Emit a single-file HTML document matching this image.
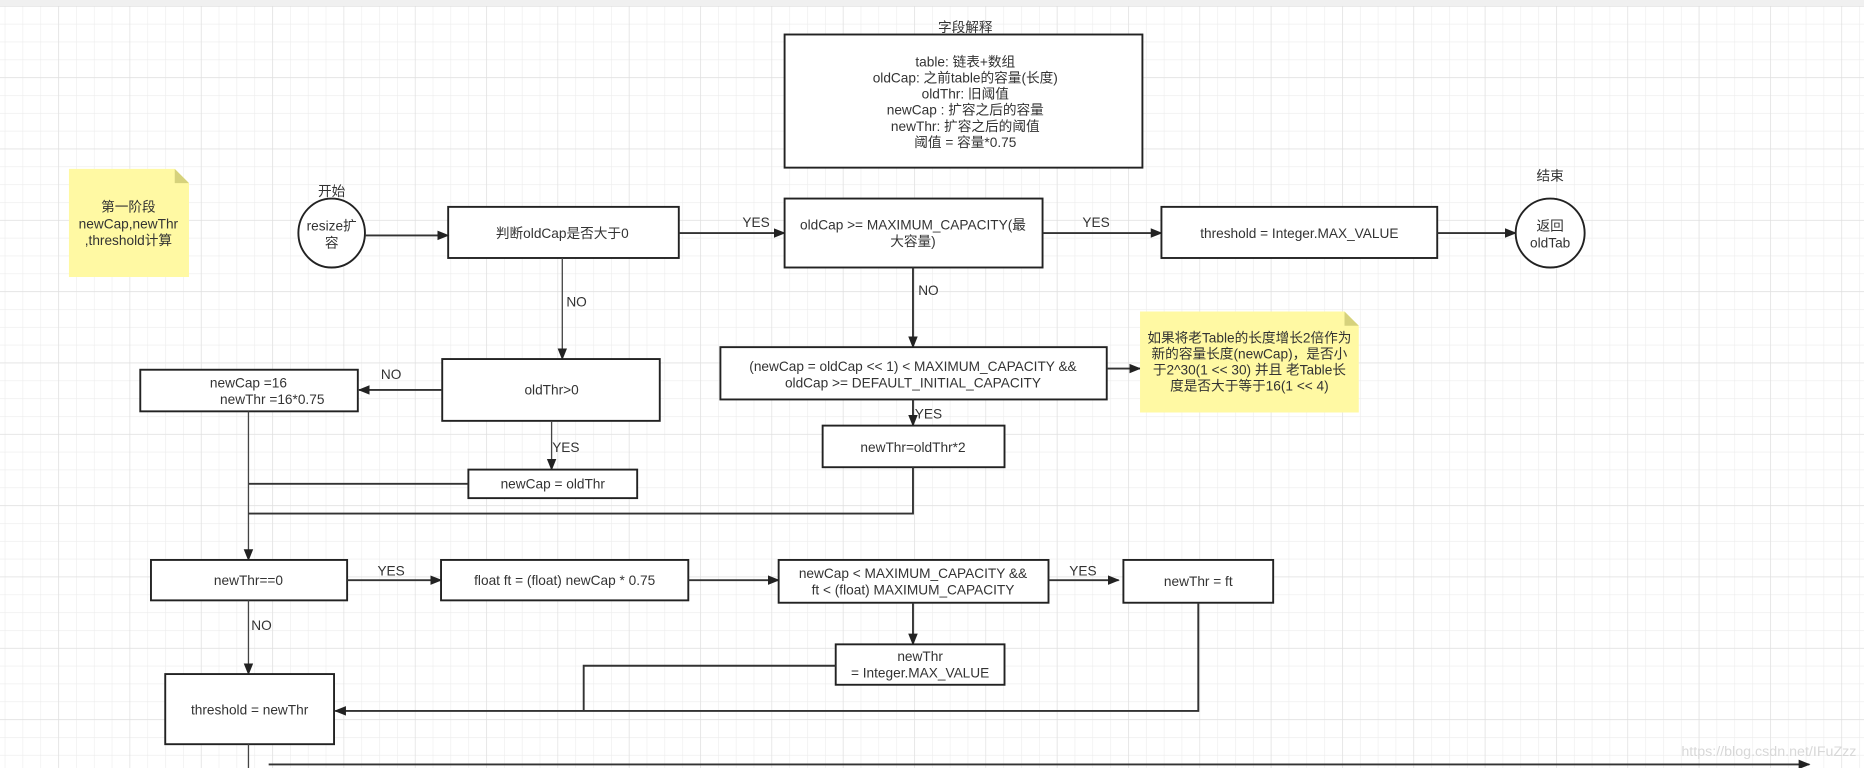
<!DOCTYPE html>
<html><head><meta charset="utf-8">
<style>
html,body{margin:0;padding:0;width:1864px;height:768px;overflow:hidden;background:#fff}
svg{display:block}
text{font-family:"Liberation Sans","Noto Sans CJK SC",sans-serif;font-size:11.5px;fill:#333;text-anchor:middle}
.b{fill:#fff;stroke:#222;stroke-width:1.6}
.l{fill:none;stroke:#333;stroke-width:1.6}
.t{fill:none;stroke:#444;stroke-width:1.1}
</style></head><body>
<svg width="1864" height="768" viewBox="0 0 1568 646" xmlns="http://www.w3.org/2000/svg">
<defs>
<pattern id="g1" width="15" height="15" patternUnits="userSpaceOnUse" x="4" y="5">
<path d="M0 0H15M0 0V15" stroke="#ececec" stroke-width="1" fill="none"/></pattern>
<pattern id="g2" width="60" height="60" patternUnits="userSpaceOnUse" x="49" y="5">
<path d="M0 0H60M0 0V60" stroke="#dedede" stroke-width="1" fill="none"/></pattern>
<marker id="a" markerWidth="10" markerHeight="10" refX="9" refY="5" orient="auto" markerUnits="userSpaceOnUse">
<path d="M0 1L10 5L0 9Z" fill="#222"/></marker>
</defs>
<rect width="1568" height="646" fill="url(#g1)"/>
<rect width="1568" height="646" fill="url(#g2)"/>
<rect width="1568" height="5" fill="#f0f0f0"/>

<text x="812" y="27">字段解释</text>
<rect class="b" x="660" y="29" width="301" height="112"/>
<text x="812" y="56">table: 链表+数组</text>
<text x="812" y="69.5">oldCap: 之前table的容量(长度)</text>
<text x="812" y="83">oldThr: 旧阈值</text>
<text x="812" y="96.5">newCap : 扩容之后的容量</text>
<text x="812" y="110">newThr: 扩容之后的阈值</text>
<text x="812" y="123.5">阈值 = 容量*0.75</text>

<path d="M58 142H147L159 154V233H58Z" fill="#fff9a3"/>
<path d="M147 142V154H159Z" fill="#d6d27c"/>
<text x="108" y="178">第一阶段</text>
<text x="108" y="192">newCap,newThr</text>
<text x="108" y="206">,threshold计算</text>

<text x="279" y="165">开始</text>
<ellipse class="b" cx="279" cy="196" rx="28" ry="29"/>
<text x="279" y="194">resize扩</text>
<text x="279" y="208">容</text>

<rect class="b" x="377" y="174" width="194" height="43"/>
<text x="473" y="200">判断oldCap是否大于0</text>
<path class="l" d="M307 198H377" marker-end="url(#a)"/>
<path class="l" d="M571 196H660" marker-end="url(#a)"/>
<text x="636" y="191">YES</text>

<rect class="b" x="660" y="167" width="217" height="58"/>
<text x="768" y="193">oldCap &gt;= MAXIMUM_CAPACITY(最</text>
<text x="768" y="207">大容量)</text>
<path class="l" d="M877 196H977" marker-end="url(#a)"/>
<text x="922" y="191">YES</text>

<rect class="b" x="977" y="174" width="232" height="43"/>
<text x="1093" y="200">threshold = Integer.MAX_VALUE</text>
<path class="l" d="M1209 196H1275" marker-end="url(#a)"/>
<text x="1304" y="152">结束</text>
<ellipse class="b" cx="1304" cy="196" rx="29" ry="29"/>
<text x="1304" y="194">返回</text>
<text x="1304" y="208">oldTab</text>

<path class="t" d="M473 217V302" marker-end="url(#a)"/>
<text x="485" y="258">NO</text>
<rect class="b" x="372" y="302" width="183" height="52"/>
<text x="464" y="332">oldThr&gt;0</text>
<path class="l" d="M372 328H302" marker-end="url(#a)"/>
<text x="329" y="319">NO</text>
<rect class="b" x="118" y="311" width="183" height="35"/>
<text x="209" y="326">newCap =16</text>
<text x="229" y="340">newThr =16*0.75</text>

<path class="t" d="M464 354V395" marker-end="url(#a)"/>
<text x="476" y="380">YES</text>
<rect class="b" x="394" y="395" width="142" height="24"/>
<text x="465" y="411">newCap = oldThr</text>
<path class="l" d="M394 407H209"/>
<path class="t" d="M209 346V471" marker-end="url(#a)"/>

<path class="l" d="M768 225V292" marker-end="url(#a)"/>
<text x="781" y="248">NO</text>
<rect class="b" x="606" y="292" width="325" height="44"/>
<text x="768" y="312">(newCap = oldCap &lt;&lt; 1) &lt; MAXIMUM_CAPACITY &amp;&amp;</text>
<text x="768" y="326">oldCap &gt;= DEFAULT_INITIAL_CAPACITY</text>
<path class="l" d="M931 310H959" marker-end="url(#a)"/>
<path d="M959 262H1131L1143 274V347H959Z" fill="#fff9a3"/>
<path d="M1131 262V274H1143Z" fill="#d6d27c"/>
<text x="1051" y="288">如果将老Table的长度增长2倍作为</text>
<text x="1051" y="301.5">新的容量长度(newCap)，是否小</text>
<text x="1051" y="315">于2^30(1 &lt;&lt; 30) 并且 老Table长</text>
<text x="1051" y="328.5">度是否大于等于16(1 &lt;&lt; 4)</text>

<path class="l" d="M768 336V358" marker-end="url(#a)"/>
<text x="781" y="352">YES</text>
<rect class="b" x="692" y="358" width="153" height="35"/>
<text x="768" y="380">newThr=oldThr*2</text>
<path class="l" d="M768 393V432H209"/>

<rect class="b" x="127" y="471" width="165" height="34"/>
<text x="209" y="492">newThr==0</text>
<path class="l" d="M292 488H371" marker-end="url(#a)"/>
<text x="329" y="484">YES</text>
<rect class="b" x="371" y="471" width="208" height="34"/>
<text x="475" y="492">float ft = (float) newCap * 0.75</text>
<path class="l" d="M579 488H655" marker-end="url(#a)"/>
<rect class="b" x="655" y="471" width="227" height="36"/>
<text x="768" y="486">newCap &lt; MAXIMUM_CAPACITY &amp;&amp;</text>
<text x="768" y="500">ft &lt; (float) MAXIMUM_CAPACITY</text>
<path class="l" d="M882 488H941" marker-end="url(#a)"/>
<text x="911" y="484">YES</text>
<rect class="b" x="945" y="471" width="126" height="36"/>
<text x="1008" y="493">newThr = ft</text>

<path class="l" d="M768 507V542" marker-end="url(#a)"/>
<rect class="b" x="703" y="542" width="142" height="34"/>
<text x="774" y="556">newThr</text>
<text x="774" y="570">= Integer.MAX_VALUE</text>
<path class="l" d="M703 560H491V598"/>
<path class="l" d="M1008 507V598H282" marker-end="url(#a)"/>

<path class="t" d="M209 505V567" marker-end="url(#a)"/>
<text x="220" y="530">NO</text>
<rect class="b" x="139" y="567" width="142" height="59"/>
<text x="210" y="601">threshold = newThr</text>
<path class="t" d="M209 626V646"/>
<path class="l" d="M226 643H1522" marker-end="url(#a)"/>
<text x="1488" y="636" style="fill:#d8d8d8;font-size:12px">https://blog.csdn.net/IFuZzz</text>
</svg>
</body></html>
